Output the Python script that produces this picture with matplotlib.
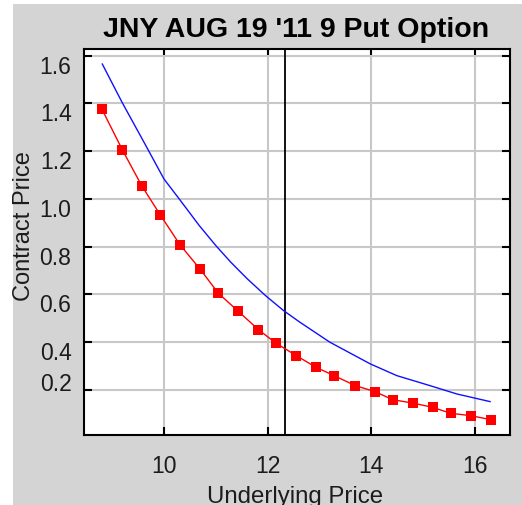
import matplotlib
matplotlib.use("Agg")
import matplotlib.pyplot as plt
import matplotlib.transforms as mtransforms
from matplotlib.patches import Rectangle

# option model curve (blue)
model_x = [8.81, 9.19, 9.65, 10.00, 10.32, 10.68, 11.00, 11.29, 11.61, 11.96,
           12.31, 12.62, 13.20, 13.98, 14.49, 15.13, 15.65, 16.29]
model_y = [1.565, 1.405, 1.223, 1.083, 0.992, 0.888, 0.804, 0.734, 0.664, 0.594,
           0.531, 0.483, 0.399, 0.308, 0.259, 0.217, 0.182, 0.150]

# contract price points (red squares)
price_x = [8.80, 9.195, 9.57, 9.93, 10.31, 10.69, 11.05, 11.43, 11.82, 12.16, 12.55,
           12.93, 13.28, 13.69, 14.07, 14.41, 14.80, 15.18, 15.53, 15.92, 16.31]
price_y = [1.377, 1.206, 1.055, 0.932, 0.807, 0.707, 0.604, 0.529, 0.452, 0.395, 0.343,
           0.294, 0.259, 0.217, 0.192, 0.158, 0.144, 0.126, 0.101, 0.091, 0.074]

current_price = 12.33
x_ticks = [10, 12, 14, 16]
y_ticks = [0.2, 0.4, 0.6, 0.8, 1.0, 1.2, 1.4, 1.6]
y_tick_labels = ["0.2", "0.4", "0.6", "0.8", "1.0", "1.2", "1.4", "1.6"]

plt.rcParams["font.family"] = ["Liberation Sans", "DejaVu Sans"]
TXT = "#1c1c1c"

fig = plt.figure(figsize=(5.22, 5.06), dpi=100)
fig.patch.set_facecolor("white")
bg = Rectangle((13 / 522, 0), 1, 1 - 5 / 506, transform=fig.transFigure,
               facecolor="#d4d4d4", edgecolor="none", zorder=-5)
fig.add_artist(bg)

ax = fig.add_axes([84 / 522, 70 / 506, 426 / 522, 386 / 506])
ax.set_facecolor("white")

ax.grid(True, color="#c8c8c8", linewidth=1.5)
ax.set_axisbelow(True)
ax.axvline(current_price, color="black", linewidth=1.3, zorder=2)

ax.plot(model_x, model_y, color="#1010ff", linewidth=1.0, zorder=3)
ax.plot(price_x, price_y, color="#ff0000", linewidth=1.0, marker="s", markersize=7,
        markeredgewidth=0, zorder=4)

ax.set_xlim(8.457, 16.675)
ax.set_ylim(0.010, 1.628)
ax.set_xticks(x_ticks)
ax.set_yticks(y_ticks)
ax.set_yticklabels(y_tick_labels)

for s in ax.spines.values():
    s.set_linewidth(1.5)
    s.set_color("black")
ax.tick_params(direction="in", length=6, width=1.5, top=True, right=True,
               labelsize=16.5, labelcolor=TXT)
ax.tick_params(axis="x", pad=14)
ax.tick_params(axis="y", pad=9)

# the java chart draws y labels a bit below the tick, except the lowest one
for lab in ax.get_yticklabels():
    dy = 9 if lab.get_text() == "0.2" else -8
    lab.set_transform(lab.get_transform() + mtransforms.ScaledTranslation(0, dy / 100, fig.dpi_scale_trans))

fig.text(296 / 522, 1 - 36.7 / 506, "JNY AUG 19 '11 9 Put Option", ha="center",
         va="baseline", fontsize=20.5, fontweight="bold", color="black")
ax.text((24 - 84) / 426, (436 - 226) / 386, "Contract Price", transform=ax.transAxes,
        rotation=90, ha="center", va="center", fontsize=17, color=TXT)
ax.text((295 - 84) / 426, (436 - 486) / 386, "Underlying Price", transform=ax.transAxes,
        ha="center", va="top", fontsize=17.3, color=TXT)

fig.savefig("out.png", dpi=100, facecolor=fig.get_facecolor())
